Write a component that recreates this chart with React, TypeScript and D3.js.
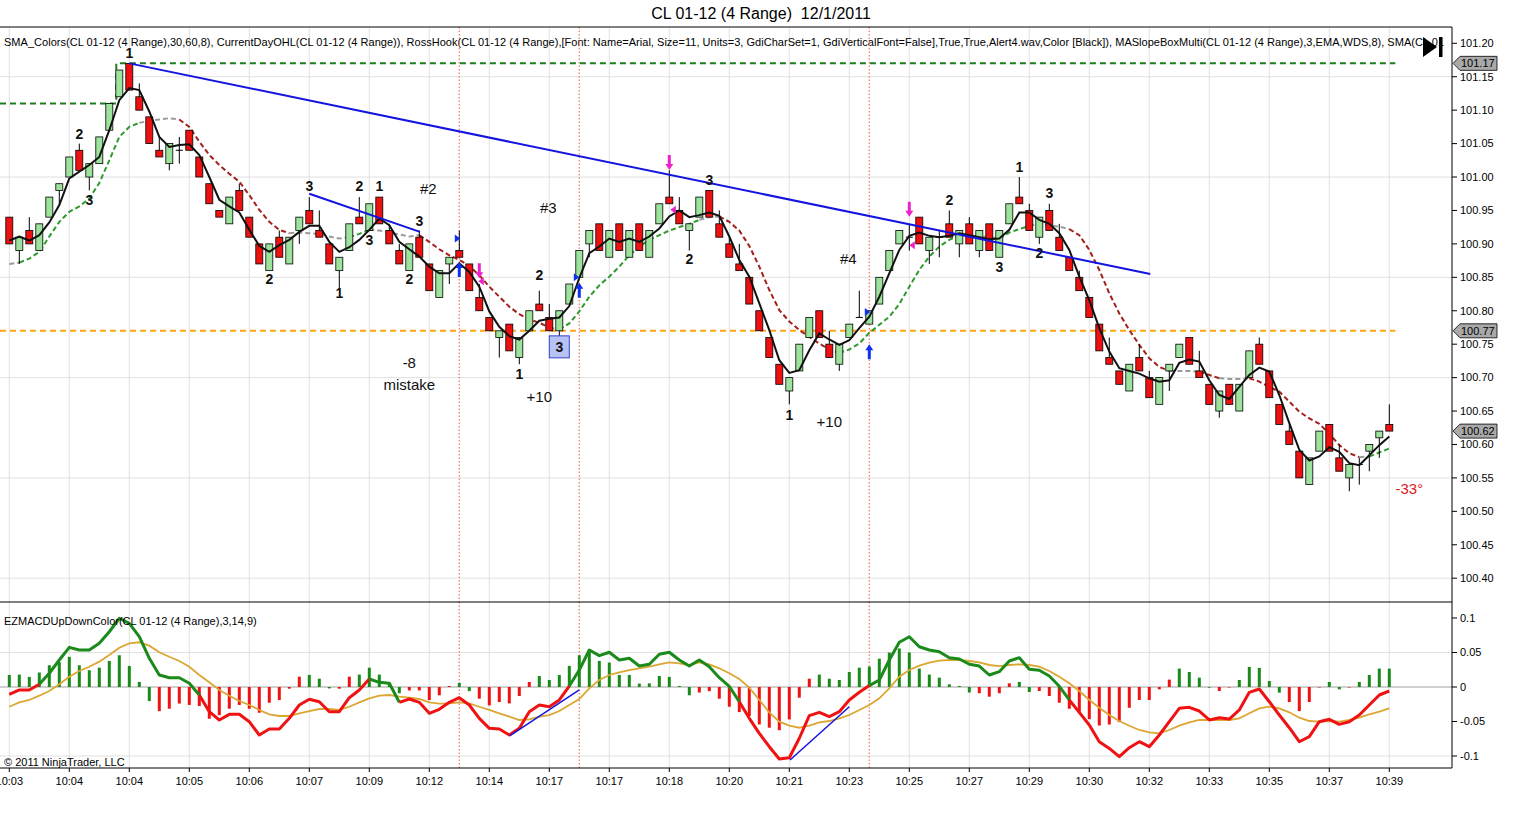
import React from "react";
import * as d3 from "d3";

// CL 01-12 (4 Range) bars
const opens = [
  100.94, 100.89, 100.92, 100.89, 100.94, 100.98, 101.0, 101.04, 101.0, 101.02,
  101.07, 101.12, 101.17, 101.12, 101.09, 101.04, 101.02, 101.04, 101.07, 101.03,
  100.99, 100.95, 100.93, 100.98, 100.94, 100.9, 100.86, 100.91, 100.87, 100.92,
  100.95, 100.92, 100.9, 100.86, 100.89, 100.94, 100.92, 100.97, 100.92, 100.89,
  100.86, 100.91, 100.87, 100.82, 100.87, 100.89, 100.87, 100.82, 100.79, 100.76,
  100.78, 100.73, 100.77, 100.81, 100.79, 100.77, 100.81, 100.85, 100.9, 100.93,
  100.88, 100.93, 100.88, 100.93, 100.88, 100.93, 100.97, 100.95, 100.92, 100.94,
  100.98, 100.93, 100.9, 100.87, 100.85, 100.8, 100.76, 100.72, 100.68, 100.71,
  100.76, 100.8, 100.75, 100.72, 100.76, 100.79, 100.78, 100.81, 100.86, 100.9,
  100.91, 100.94, 100.89, 100.91, 100.93, 100.9, 100.93, 100.89, 100.93, 100.88,
  100.93, 100.97, 100.95, 100.91, 100.95, 100.91, 100.88, 100.85, 100.82, 100.78,
  100.73, 100.71, 100.68, 100.73, 100.7, 100.66, 100.71, 100.73, 100.76, 100.71,
  100.69, 100.65, 100.69, 100.65, 100.7, 100.75, 100.71, 100.66, 100.62, 100.59,
  100.54, 100.59, 100.63, 100.58, 100.55, 100.57, 100.59, 100.61, 100.63,
];
const closes = [
  100.9, 100.91, 100.9, 100.93, 100.97, 100.99, 101.03, 101.01, 101.02, 101.06,
  101.11, 101.16, 101.13, 101.1, 101.05, 101.03, 101.05, 101.04, 101.04, 101.0,
  100.96, 100.94, 100.97, 100.95, 100.91, 100.87, 100.9, 100.88, 100.91, 100.94,
  100.93, 100.91, 100.87, 100.88, 100.93, 100.93, 100.96, 100.93, 100.9, 100.87,
  100.9, 100.88, 100.83, 100.86, 100.88, 100.88, 100.83, 100.8, 100.77, 100.77,
  100.74, 100.76, 100.8, 100.8, 100.77, 100.8, 100.84, 100.89, 100.92, 100.89,
  100.92, 100.89, 100.92, 100.89, 100.92, 100.96, 100.96, 100.93, 100.93, 100.97,
  100.94, 100.91, 100.88, 100.86, 100.81, 100.77, 100.73, 100.69, 100.7, 100.75,
  100.79, 100.76, 100.73, 100.75, 100.78, 100.79, 100.8, 100.85, 100.89, 100.92,
  100.91, 100.9, 100.91, 100.91, 100.91, 100.92, 100.9, 100.92, 100.89, 100.92,
  100.96, 100.96, 100.92, 100.94, 100.92, 100.89, 100.86, 100.83, 100.79, 100.74,
  100.72, 100.69, 100.72, 100.71, 100.67, 100.7, 100.72, 100.75, 100.72, 100.7,
  100.66, 100.68, 100.66, 100.69, 100.74, 100.72, 100.67, 100.63, 100.6, 100.55,
  100.58, 100.62, 100.59, 100.56, 100.57, 100.57, 100.6, 100.62, 100.62,
];
const highs = [
  100.94, 100.91, 100.94, 100.93, 100.97, 100.99, 101.03, 101.05, 101.02, 101.06,
  101.11, 101.16, 101.17, 101.14, 101.09, 101.06, 101.05, 101.06, 101.07, 101.03,
  100.99, 100.95, 100.97, 100.99, 100.94, 100.9, 100.9, 100.92, 100.91, 100.94,
  100.97, 100.95, 100.9, 100.88, 100.93, 100.97, 100.96, 100.97, 100.93, 100.9,
  100.9, 100.92, 100.87, 100.86, 100.88, 100.92, 100.87, 100.84, 100.79, 100.77,
  100.78, 100.76, 100.8, 100.83, 100.81, 100.8, 100.84, 100.89, 100.92, 100.93,
  100.92, 100.93, 100.92, 100.93, 100.92, 100.96, 101.01, 100.97, 100.93, 100.97,
  100.98, 100.95, 100.91, 100.9, 100.85, 100.8, 100.76, 100.72, 100.7, 100.75,
  100.79, 100.8, 100.77, 100.75, 100.78, 100.83, 100.8, 100.85, 100.89, 100.92,
  100.93, 100.94, 100.91, 100.92, 100.95, 100.92, 100.94, 100.92, 100.93, 100.92,
  100.96, 101.0, 100.96, 100.94, 100.96, 100.93, 100.88, 100.86, 100.82, 100.78,
  100.76, 100.71, 100.72, 100.75, 100.71, 100.7, 100.72, 100.75, 100.76, 100.74,
  100.69, 100.68, 100.69, 100.69, 100.74, 100.76, 100.71, 100.66, 100.63, 100.59,
  100.58, 100.62, 100.63, 100.6, 100.57, 100.58, 100.6, 100.62, 100.66,
];
const lows = [
  100.9, 100.87, 100.9, 100.89, 100.94, 100.96, 101.0, 101.01, 100.98, 101.02,
  101.07, 101.12, 101.13, 101.1, 101.05, 101.03, 101.01, 101.02, 101.04, 101.0,
  100.96, 100.94, 100.93, 100.95, 100.91, 100.87, 100.86, 100.88, 100.87, 100.9,
  100.93, 100.91, 100.87, 100.83, 100.89, 100.93, 100.92, 100.93, 100.9, 100.87,
  100.86, 100.88, 100.83, 100.82, 100.84, 100.88, 100.83, 100.8, 100.77, 100.73,
  100.74, 100.72, 100.77, 100.8, 100.77, 100.76, 100.81, 100.85, 100.88, 100.89,
  100.88, 100.89, 100.88, 100.89, 100.88, 100.93, 100.96, 100.93, 100.89, 100.94,
  100.94, 100.91, 100.88, 100.86, 100.81, 100.77, 100.73, 100.69, 100.66, 100.71,
  100.76, 100.76, 100.73, 100.71, 100.76, 100.79, 100.78, 100.81, 100.86, 100.9,
  100.89, 100.9, 100.87, 100.88, 100.91, 100.88, 100.9, 100.88, 100.89, 100.88,
  100.93, 100.96, 100.92, 100.9, 100.92, 100.89, 100.86, 100.83, 100.79, 100.74,
  100.72, 100.69, 100.68, 100.71, 100.67, 100.66, 100.68, 100.73, 100.72, 100.7,
  100.66, 100.64, 100.66, 100.65, 100.7, 100.72, 100.67, 100.63, 100.6, 100.55,
  100.54, 100.59, 100.59, 100.56, 100.53, 100.54, 100.56, 100.58, 100.62,
];

// SMA_Colors fast (solid black) and slow (dashed) lines
const fastMA = [
  100.905, 100.911, 100.905, 100.913, 100.932, 100.958, 100.998, 101.008, 101.018, 101.03,
  101.07, 101.115, 101.133, 101.13, 101.098, 101.06, 101.045, 101.048, 101.049, 101.033,
  101.0, 100.966, 100.956, 100.947, 100.921, 100.897, 100.888, 100.898, 100.906, 100.918,
  100.927, 100.927, 100.903, 100.888, 100.895, 100.906, 100.921, 100.938, 100.928, 100.903,
  100.892, 100.881, 100.866, 100.856, 100.856, 100.871, 100.858, 100.836, 100.799, 100.776,
  100.762, 100.757, 100.77, 100.785, 100.788, 100.79, 100.807, 100.849, 100.886, 100.896,
  100.908, 100.903, 100.908, 100.903, 100.911, 100.923, 100.941, 100.95, 100.94, 100.943,
  100.947, 100.942, 100.911, 100.876, 100.851, 100.811, 100.771, 100.726, 100.707, 100.711,
  100.741, 100.766, 100.757, 100.749, 100.756, 100.774, 100.791, 100.821, 100.856, 100.891,
  100.912, 100.917, 100.912, 100.91, 100.912, 100.916, 100.913, 100.91, 100.907, 100.908,
  100.921, 100.947, 100.947, 100.936, 100.93, 100.916, 100.891, 100.851, 100.816, 100.774,
  100.739, 100.714, 100.71, 100.706, 100.699, 100.694, 100.696, 100.722, 100.727, 100.724,
  100.696, 100.674, 100.668, 100.686, 100.704, 100.715, 100.709, 100.674, 100.632, 100.592,
  100.576, 100.582, 100.596, 100.589, 100.572, 100.569, 100.584, 100.599, 100.612,
];
const slowMA = [
  100.87, 100.872, 100.878, 100.888, 100.911, 100.933, 100.948, 100.956, 100.968, 100.991,
  101.025, 101.06, 101.075, 101.081, 101.084, 101.086, 101.088, 101.086, 101.075, 101.053,
  101.033, 101.018, 101.005, 100.993, 100.973, 100.951, 100.933, 100.921, 100.916, 100.917,
  100.916, 100.915, 100.911, 100.908, 100.91, 100.915, 100.921, 100.92, 100.917, 100.914,
  100.911, 100.913, 100.903, 100.892, 100.883, 100.876, 100.867, 100.853, 100.836, 100.821,
  100.806, 100.795, 100.787, 100.782, 100.775, 100.772, 100.781, 100.799, 100.821, 100.838,
  100.851, 100.866, 100.883, 100.896, 100.906, 100.913, 100.92, 100.925, 100.93, 100.936,
  100.94, 100.941, 100.933, 100.92, 100.897, 100.866, 100.831, 100.801, 100.784, 100.771,
  100.761, 100.751, 100.742, 100.737, 100.742, 100.751, 100.767, 100.779, 100.791, 100.81,
  100.836, 100.861, 100.881, 100.896, 100.906, 100.913, 100.913, 100.912, 100.91, 100.908,
  100.917, 100.922, 100.927, 100.93, 100.927, 100.926, 100.922, 100.913, 100.891, 100.861,
  100.826, 100.796, 100.771, 100.749, 100.729, 100.716, 100.71, 100.71, 100.71, 100.709,
  100.704, 100.699, 100.698, 100.698, 100.699, 100.694, 100.686, 100.679, 100.664, 100.649,
  100.639, 100.631, 100.616, 100.599, 100.587, 100.581, 100.582, 100.588, 100.594,
];

// EZMACDUpDownColor(3,14,9)
const macd = [
  -0.0106, -0.0043, -0.0043, 0.0039, 0.0199, 0.0391, 0.0575, 0.0536, 0.0536, 0.0633,
  0.0801, 0.0996, 0.0923, 0.0729, 0.0416, 0.0174, 0.0135, 0.0135, 0.0054, -0.0116,
  -0.0358, -0.0478, -0.0396, -0.0396, -0.0503, -0.0696, -0.0609, -0.0609, -0.0454, -0.0261,
  -0.0178, -0.0213, -0.0358, -0.0358, -0.0155, -0.0043, 0.0116, 0.0068, 0.0054, -0.0222,
  -0.0174, -0.0222, -0.0381, -0.0323, -0.0222, -0.0155, -0.0261, -0.0454, -0.0599, -0.0609,
  -0.0696, -0.0599, -0.0358, -0.0261, -0.0286, -0.0188, 0.0014, 0.0246, 0.0536, 0.0454,
  0.0503, 0.0391, 0.0416, 0.0304, 0.0329, 0.0474, 0.0503, 0.0391, 0.0304, 0.0391,
  0.0294, 0.0135, 0.001, -0.0213, -0.0454, -0.0671, -0.0865, -0.1043, -0.1025, -0.0743,
  -0.0416, -0.0367, -0.043, -0.0358, -0.0188, -0.0077, 0.002, 0.0101, 0.0391, 0.0648,
  0.0729, 0.0584, 0.0536, 0.0512, 0.0425, 0.0406, 0.0329, 0.0304, 0.0174, 0.0222,
  0.0377, 0.0425, 0.0257, 0.0242, 0.0159, 0.001, -0.0188, -0.0367, -0.0551, -0.0793,
  -0.089, -0.101, -0.088, -0.0793, -0.0865, -0.0696, -0.0503, -0.0309, -0.0294, -0.0348,
  -0.0478, -0.0445, -0.0464, -0.0333, -0.0077, -0.0029, -0.0213, -0.0406, -0.059, -0.0793,
  -0.072, -0.0503, -0.0468, -0.0541, -0.0503, -0.0406, -0.0261, -0.0116, -0.0058,
];
const signal = [
  -0.0286, -0.0222, -0.0188, -0.0126, -0.0058, 0.0039, 0.0149, 0.0232, 0.0294, 0.0367,
  0.0464, 0.057, 0.0633, 0.0648, 0.0599, 0.0503, 0.0439, 0.0377, 0.0294, 0.0174,
  0.0068, -0.0043, -0.0126, -0.0203, -0.0261, -0.0333, -0.0396, -0.042, -0.042, -0.0381,
  -0.0348, -0.0319, -0.0319, -0.0333, -0.0286, -0.0222, -0.0164, -0.0126, -0.0116, -0.0141,
  -0.0155, -0.0174, -0.0222, -0.0242, -0.0236, -0.0222, -0.0236, -0.0286, -0.0333, -0.0381,
  -0.043, -0.0478, -0.0468, -0.043, -0.0406, -0.0348, -0.0261, -0.0174, -0.0019, 0.0101,
  0.0174, 0.0213, 0.0246, 0.0271, 0.0294, 0.0329, 0.0358, 0.0343, 0.0319, 0.0358,
  0.0329, 0.0271, 0.0199, 0.0116, -0.001, -0.0188, -0.0367, -0.0503, -0.0561, -0.059,
  -0.0561, -0.0512, -0.0493, -0.0454, -0.0406, -0.0333, -0.0261, -0.0164, -0.0019, 0.0149,
  0.0246, 0.0309, 0.0352, 0.0381, 0.0391, 0.0391, 0.0377, 0.0358, 0.0319, 0.0304,
  0.0319, 0.0329, 0.0319, 0.0294, 0.0232, 0.0149, 0.0054, -0.0058, -0.0188, -0.03,
  -0.0406, -0.0493, -0.0561, -0.0623, -0.0657, -0.0671, -0.0623, -0.0561, -0.0512, -0.0478,
  -0.0478, -0.0478, -0.0478, -0.0454, -0.0381, -0.0309, -0.0286, -0.0309, -0.0367, -0.0445,
  -0.0493, -0.0503, -0.0493, -0.0503, -0.0478, -0.0445, -0.0396, -0.0358, -0.0309,
];
const hist = [
  0.0175, 0.018, 0.0146, 0.021, 0.0315, 0.036, 0.0437, 0.0315, 0.0243, 0.028,
  0.0378, 0.046, 0.0305, 0.0073, -0.0204, -0.035, -0.0315, -0.024, -0.026, -0.0276,
  -0.046, -0.041, -0.0315, -0.026, -0.0315, -0.0373, -0.0228, -0.019, -0.0024, 0.015,
  0.0175, 0.012, -0.002, -0.0024, 0.015, 0.018, 0.028, 0.018, 0.0063, -0.009,
  -0.005, -0.005, -0.019, -0.012, 0.0015, 0.006, -0.006, -0.017, -0.0267, -0.0218,
  -0.0238, -0.013, 0.0073, 0.016, 0.0102, 0.0175, 0.0306, 0.046, 0.0534, 0.0378,
  0.0354, 0.0175, 0.0175, 0.0049, 0.0053, 0.016, 0.0146, 0.0015, -0.012, -0.008,
  -0.006, -0.017, -0.0286, -0.0364, -0.042, -0.0543, -0.059, -0.0626, -0.047, -0.0155,
  0.012, 0.018, 0.012, 0.0102, 0.0218, 0.028, 0.0296, 0.041, 0.05, 0.0558,
  0.05, 0.0267, 0.018, 0.0136, 0.0039, 0.0015, -0.008, -0.009, -0.014, -0.009,
  0.0053, 0.0073, -0.0073, -0.0058, -0.0131, -0.0228, -0.0315, -0.0383, -0.0466, -0.0558,
  -0.0543, -0.0509, -0.0301, -0.0189, -0.0189, -0.0034, 0.0107, 0.0267, 0.0218, 0.0136,
  -0.001, -0.0058, 0, 0.0102, 0.0291, 0.0277, 0.0087, -0.0082, -0.0218, -0.0349,
  -0.0218, 0, 0.0073, -0.0034, 0, 0.0073, 0.0175, 0.0267, 0.0267,
];

const timeLabels = [
  "10:03", "10:04", "10:04", "10:05", "10:06", "10:07", "10:09", "10:12", "10:14", "10:17",
  "10:17", "10:18", "10:20", "10:21", "10:23", "10:25", "10:27", "10:29", "10:30", "10:32",
  "10:33", "10:35", "10:37", "10:39",
];
const priceTicks = d3.range(0, 17).map((k) => 100.4 + k * 0.05);
const priceGrid = [100.4, 100.55, 100.7, 100.85, 101.0, 101.15];
const macdTicks = [0.1, 0.05, 0, -0.05, -0.1];
const macdGrid = [0.05, -0.1];

// RossHook swing counts
const swingIdx = [12, 7, 8, 26, 30, 35, 37, 36, 33, 41, 40, 53, 51, 55, 70, 68, 78, 94, 101, 104, 99, 103];
const swingPrice = [
  101.185, 101.064, 100.966, 100.847, 100.986, 100.986, 100.986, 100.906, 100.826, 100.935, 100.847,
  100.853, 100.706, 100.746, 100.996, 100.877, 100.644, 100.965, 101.015, 100.976, 100.866, 100.886,
];
const swingText = ["1", "2", "3", "2", "3", "2", "1", "3", "1", "3", "2", "2", "1", "3", "3", "2", "1", "2", "1", "3", "3", "2"];
const boxedSwing = 13;

// hand written notes
const noteText = ["#2", "#3", "#4", "-8", "mistake", "+10", "+10"];
const noteIdx = [41.9, 53.9, 83.9, 40, 40, 53, 82];
const notePrice = [100.982, 100.954, 100.878, 100.722, 100.689, 100.671, 100.634];

// signal markers
const entryIdx = [45, 57, 86];
const upArrowTop = [100.873, 100.842, 100.75];
const entryTriIdx = [44.8, 56.7, 85.8];
const entryTriPrice = [100.908, 100.85, 100.798];
const hookIdx = [47, 66, 90];
const downArrowTop = [100.871, 101.033, 100.963];
const hookTriIdx = [47.2, 66.4, 90.3];
const hookTriPrice = [100.844, 100.951, 100.898];

const trendLines = [
  { i0: 12, p0: 101.17, i1: 114.1, p1: 100.855 },
  { i0: 30, p0: 100.975, i1: 41.07, p1: 100.918 },
];
const macdTrend = [
  { i0: 50.07, v0: -0.0706, i1: 57, v1: -0.0043 },
  { i0: 78.07, v0: -0.1058, i1: 84, v1: -0.0286 },
];
const dayHigh = [101.11, 101.17];
const dayHighStep = 10.7;
const refLevel = 100.77;
const lastPrice = 100.62;

const FONT = "'Liberation Sans', Arial, Helvetica, sans-serif";
const W = 1523;
const H = 814;
const RIGHT = 1452;
const MAIN_TOP = 27;
const MAIN_BOT = 602;
const MACD_BOT = 768;

const x = d3.scaleLinear().domain([0, 138]).range([9.3, 1389.3]);
const y = d3.scaleLinear().domain([100.4, 101.2]).range([578.2, 43.3]);
const ym = d3.scaleLinear().domain([-0.1, 0.1]).range([756, 618]);

const GREEN_CANDLE = "#9de39d";
const RED_CANDLE = "#ee1111";

// split a series into runs of equal colour, segment k-1 -> k gets colorOf(k)
function colorRuns(n: number, colorOf: (k: number) => string) {
  const out: { color: string; idx: number[] }[] = [];
  let cur: { color: string; idx: number[] } | null = null;
  for (let k = 1; k < n; k++) {
    const c = colorOf(k);
    if (!cur || cur.color !== c) {
      cur = { color: c, idx: [k - 1] };
      out.push(cur);
    }
    cur.idx.push(k);
  }
  return out;
}

function upArrow(cx: number, top: number) {
  return `M${cx},${top} L${cx + 4},${top + 6} L${cx + 1.5},${top + 6} L${cx + 1.5},${top + 15} L${cx - 1.5},${top + 15} L${cx - 1.5},${top + 6} L${cx - 4},${top + 6} Z`;
}
function downArrow(cx: number, top: number) {
  const b = top + 15;
  return `M${cx},${b} L${cx + 4},${b - 6} L${cx + 1.5},${b - 6} L${cx + 1.5},${top} L${cx - 1.5},${top} L${cx - 1.5},${b - 6} L${cx - 4},${b - 6} Z`;
}

function AxisBox({ yy, label }: { yy: number; label: string }) {
  return (
    <g>
      <path
        d={`M${RIGHT + 1},${yy} L${RIGHT + 8},${yy - 7} L${RIGHT + 45},${yy - 7} L${RIGHT + 45},${yy + 7} L${RIGHT + 8},${yy + 7} Z`}
        fill="#a9a9a9"
        stroke="#000"
        strokeWidth={0.8}
      />
      <text x={RIGHT + 9} y={yy} dy="0.35em" fontSize={11}>
        {label}
      </text>
    </g>
  );
}

export default function App() {
  const n = closes.length;
  const idx = d3.range(n);

  const fastLine = d3.line<number>().x((i) => x(i)).y((i) => y(fastMA[i]));
  const slowLine = d3.line<number>().x((i) => x(i)).y((i) => y(slowMA[i]));
  const macdLine = d3.line<number>().x((i) => x(i)).y((i) => ym(macd[i]));
  const signalLine = d3.line<number>().x((i) => x(i)).y((i) => ym(signal[i]));

  const slowRuns = colorRuns(n, (k) => {
    const d = slowMA[k] - slowMA[k - 1];
    if (d > 0.0045) return "#2e9a2e";
    if (d < -0.0045) return "#a3201c";
    return "#9a9a9a";
  });
  const macdRuns = colorRuns(n, (k) => (macd[k - 1] > 0 ? "#1a8a1a" : "#f01212"));

  const gridX = idx.filter((i) => i % 6 === 0);

  return (
    <svg
      width={W}
      height={H}
      style={{ position: "absolute", left: 0, top: 0, background: "#fff" }}
      fontFamily={FONT}
    >
      <defs>
        <clipPath id="mainClip">
          <rect x={0} y={MAIN_TOP} width={RIGHT} height={MAIN_BOT - MAIN_TOP} />
        </clipPath>
        <clipPath id="macdClip">
          <rect x={0} y={MAIN_BOT} width={RIGHT} height={MACD_BOT - MAIN_BOT} />
        </clipPath>
      </defs>

      <text x={761} y={13} dy="0.35em" textAnchor="middle" fontSize={16} style={{ whiteSpace: "pre" }}>
        {"CL 01-12 (4 Range)  12/1/2011"}
      </text>

      {/* grids */}
      <g stroke="#e1e1e1" strokeWidth={1}>
        {gridX.map((i) => (
          <line key={"gx" + i} x1={x(i)} x2={x(i)} y1={MAIN_TOP} y2={MACD_BOT} />
        ))}
        {priceGrid.map((p) => (
          <line key={"gp" + p} x1={0} x2={RIGHT} y1={y(p)} y2={y(p)} />
        ))}
        {macdGrid.map((v) => (
          <line key={"gm" + v} x1={0} x2={RIGHT} y1={ym(v)} y2={ym(v)} />
        ))}
      </g>

      {/* main panel */}
      <g clipPath="url(#mainClip)">
        <text x={4} y={42} dy="0.35em" fontSize={11} textLength={1440} lengthAdjust="spacing">
          SMA_Colors(CL 01-12 (4 Range),30,60,8), CurrentDayOHL(CL 01-12 (4 Range)), RossHook(CL 01-12 (4 Range),[Font: Name=Arial, Size=11, Units=3, GdiCharSet=1, GdiVerticalFont=False],True,True,Alert4.wav,Color [Black]), MASlopeBoxMulti(CL 01-12 (4 Range),3,EMA,WDS,8), SMA(CL 01
        </text>

        {entryIdx.map((i) => (
          <line key={"vl" + i} x1={x(i)} x2={x(i)} y1={MAIN_TOP} y2={MAIN_BOT} stroke="#f08070" strokeWidth={1.3} strokeDasharray="1.5,2" />
        ))}

        <path
          d={`M0,${y(dayHigh[0])} H${x(dayHighStep)} V${y(dayHigh[1])} H${x(138.6)}`}
          fill="none"
          stroke="#1e7d1e"
          strokeWidth={2}
          strokeDasharray="6,4"
        />
        <line x1={0} x2={x(138.6)} y1={y(refLevel)} y2={y(refLevel)} stroke="#ffa51a" strokeWidth={2} strokeDasharray="6,4" />

        {slowRuns.map((r, k) => (
          <path key={"sr" + k} d={slowLine(r.idx) || ""} fill="none" stroke={r.color} strokeWidth={2} strokeDasharray="5,3" />
        ))}

        {idx.map((i) => {
          const o = opens[i];
          const c = closes[i];
          const top = y(Math.max(o, c));
          const bot = y(Math.min(o, c));
          const doji = o === c;
          return (
            <g key={"b" + i}>
              <line x1={x(i)} x2={x(i)} y1={y(highs[i])} y2={y(lows[i])} stroke="#000" strokeWidth={1} />
              {doji ? (
                <line x1={x(i) - 3.5} x2={x(i) + 3.5} y1={top} y2={top} stroke="#000" strokeWidth={1} />
              ) : (
                <rect
                  x={x(i) - 3.5}
                  y={top}
                  width={7}
                  height={bot - top}
                  fill={c > o ? GREEN_CANDLE : RED_CANDLE}
                  stroke="#000"
                  strokeWidth={0.8}
                />
              )}
            </g>
          );
        })}

        <path d={fastLine(idx) || ""} fill="none" stroke="#111" strokeWidth={2} />

        {trendLines.map((t, k) => (
          <line key={"tl" + k} x1={x(t.i0)} y1={y(t.p0)} x2={x(t.i1)} y2={y(t.p1)} stroke="#1414e0" strokeWidth={2} />
        ))}

        {entryIdx.map((i, k) => (
          <path key={"ua" + k} d={upArrow(x(i), y(upArrowTop[k]))} fill="#1030f0" />
        ))}
        {entryTriIdx.map((i, k) => {
          const cx = x(i);
          const cy = y(entryTriPrice[k]);
          return <path key={"et" + k} d={`M${cx - 2.5},${cy - 4} L${cx + 3},${cy} L${cx - 2.5},${cy + 4} Z`} fill="#1030f0" />;
        })}
        {hookIdx.map((i, k) => (
          <path key={"da" + k} d={downArrow(x(i), y(downArrowTop[k]))} fill="#ee22cc" />
        ))}
        {hookTriIdx.map((i, k) => {
          const cx = x(i);
          const cy = y(hookTriPrice[k]);
          return <path key={"ht" + k} d={`M${cx + 2.5},${cy - 4} L${cx - 3},${cy} L${cx + 2.5},${cy + 4} Z`} fill="#ee22cc" />;
        })}

        {swingIdx.map((i, k) => (
          <g key={"sw" + k}>
            {k === boxedSwing && (
              <rect x={x(i) - 10} y={y(swingPrice[k]) - 11} width={20} height={22} fill="#b7c3f5" stroke="#3344cc" strokeWidth={1} />
            )}
            <text x={x(i)} y={y(swingPrice[k])} dy="0.36em" textAnchor="middle" fontSize={14} fontWeight="bold" fill="#111">
              {swingText[k]}
            </text>
          </g>
        ))}

        {noteText.map((t, k) => (
          <text key={"nt" + k} x={x(noteIdx[k])} y={y(notePrice[k])} dy="0.35em" textAnchor="middle" fontSize={15} fill="#111">
            {t}
          </text>
        ))}
        <text x={x(140)} y={y(100.534)} dy="0.35em" textAnchor="middle" fontSize={15} fill="#e02020">
          -33°
        </text>

        <path d="M1423,37 L1437,47 L1423,57 Z" fill="#000" />
        <rect x={1439} y={37} width={3.5} height={20} fill="#000" />
      </g>

      {/* MACD panel */}
      <g clipPath="url(#macdClip)">
        {entryIdx.map((i) => (
          <line key={"mvl" + i} x1={x(i)} x2={x(i)} y1={MAIN_BOT} y2={MACD_BOT} stroke="#f08070" strokeWidth={1.3} strokeDasharray="1.5,2" />
        ))}
        <line x1={0} x2={RIGHT} y1={ym(0)} y2={ym(0)} stroke="#a0a0a0" strokeWidth={1} />
        {idx.map((i) => {
          const v = hist[i];
          const ref = i > 0 ? hist[i - 1] : v;
          return (
            <rect
              key={"h" + i}
              x={x(i) - 1.5}
              y={Math.min(ym(0), ym(v))}
              width={3}
              height={Math.max(0.5, Math.abs(ym(v) - ym(0)))}
              fill={ref >= 0 ? "#1a8a1a" : "#f01212"}
            />
          );
        })}
        <path d={signalLine(idx) || ""} fill="none" stroke="#dca632" strokeWidth={1.8} />
        {macdRuns.map((r, k) => (
          <path key={"mr" + k} d={macdLine(r.idx) || ""} fill="none" stroke={r.color} strokeWidth={3} strokeLinejoin="round" />
        ))}
        {macdTrend.map((t, k) => (
          <line key={"mt" + k} x1={x(t.i0)} y1={ym(t.v0)} x2={x(t.i1)} y2={ym(t.v1)} stroke="#1414e0" strokeWidth={1.5} />
        ))}
        <text x={4} y={621} dy="0.35em" fontSize={11}>
          EZMACDUpDownColor(CL 01-12 (4 Range),3,14,9)
        </text>
        <text x={4} y={762} dy="0.35em" fontSize={11}>
          © 2011 NinjaTrader, LLC
        </text>
      </g>

      {/* frames */}
      <g stroke="#000" strokeWidth={1}>
        <line x1={0} x2={RIGHT} y1={MAIN_TOP} y2={MAIN_TOP} />
        <line x1={0} x2={RIGHT} y1={MAIN_BOT} y2={MAIN_BOT} />
        <line x1={0} x2={RIGHT} y1={MACD_BOT} y2={MACD_BOT} />
        <line x1={RIGHT} x2={RIGHT} y1={MAIN_TOP} y2={MACD_BOT} />
      </g>

      {/* price axis */}
      {priceTicks.map((p) => (
        <g key={"pt" + p.toFixed(2)}>
          <line x1={RIGHT} x2={RIGHT + 5} y1={y(p)} y2={y(p)} stroke="#000" />
          <text x={RIGHT + 8} y={y(p)} dy="0.35em" fontSize={11}>
            {p.toFixed(2)}
          </text>
        </g>
      ))}
      <AxisBox yy={y(dayHigh[1])} label={dayHigh[1].toFixed(2)} />
      <AxisBox yy={y(refLevel)} label={refLevel.toFixed(2)} />
      <AxisBox yy={y(lastPrice)} label={lastPrice.toFixed(2)} />

      {/* macd axis */}
      {macdTicks.map((v) => (
        <g key={"mt" + v}>
          <line x1={RIGHT} x2={RIGHT + 5} y1={ym(v)} y2={ym(v)} stroke="#000" />
          <text x={RIGHT + 8} y={ym(v)} dy="0.35em" fontSize={11}>
            {String(v)}
          </text>
        </g>
      ))}

      {/* time axis */}
      {gridX.map((i, k) => (
        <g key={"tx" + i}>
          <line x1={x(i)} x2={x(i)} y1={MACD_BOT} y2={MACD_BOT + 4} stroke="#000" />
          <text x={x(i)} y={781} dy="0.35em" textAnchor="middle" fontSize={11}>
            {timeLabels[k]}
          </text>
        </g>
      ))}
    </svg>
  );
}
